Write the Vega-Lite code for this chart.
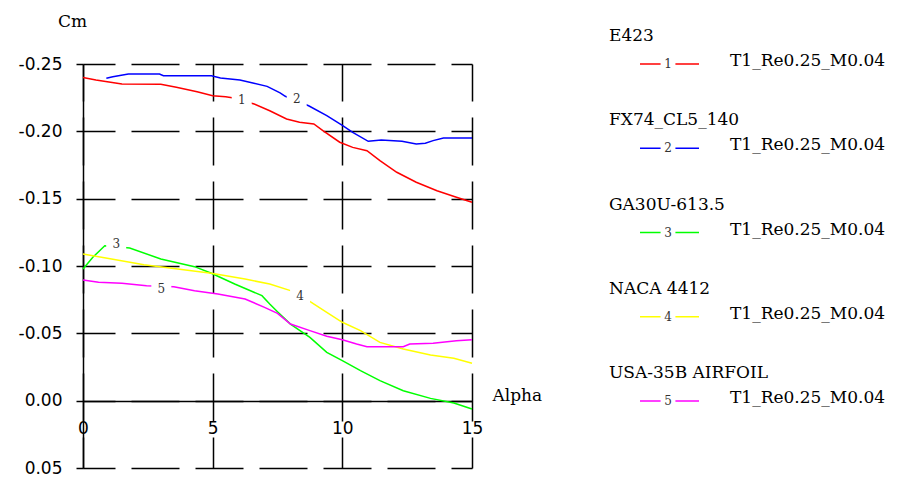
{
  "$schema": "https://vega.github.io/schema/vega-lite/v6.json",
  "background": "white",
  "padding": {"left": 18, "top": 12, "right": 5, "bottom": 0},
  "bounds": "flush",
  "spacing": 128,
  "config": {"view": {"stroke": null}, "font": "DejaVu Sans"},
  "datasets": {
    "curves": [
      {"series": "E423", "a": 0, "cm": -0.240},
      {"series": "E423", "a": 0.5, "cm": -0.2382},
      {"series": "E423", "a": 1, "cm": -0.2367},
      {"series": "E423", "a": 1.5, "cm": -0.2351},
      {"series": "E423", "a": 3.0, "cm": -0.2350},
      {"series": "E423", "a": 3.6, "cm": -0.2327},
      {"series": "E423", "a": 4.4, "cm": -0.2294},
      {"series": "E423", "a": 5.0, "cm": -0.2265},
      {"series": "E423", "a": 5.5, "cm": -0.2257},
      {"series": "E423", "a": 5.75, "cm": -0.2250},
      {"series": "E423", "a": 6.6, "cm": -0.2203},
      {"series": "E423", "a": 7.2, "cm": -0.2153},
      {"series": "E423", "a": 7.85, "cm": -0.2092},
      {"series": "E423", "a": 8.35, "cm": -0.2067},
      {"series": "E423", "a": 8.9, "cm": -0.2055},
      {"series": "E423", "a": 9.25, "cm": -0.2005},
      {"series": "E423", "a": 9.9, "cm": -0.1919},
      {"series": "E423", "a": 10.4, "cm": -0.1881},
      {"series": "E423", "a": 10.95, "cm": -0.1856},
      {"series": "E423", "a": 11.45, "cm": -0.1782},
      {"series": "E423", "a": 12.1, "cm": -0.1696},
      {"series": "E423", "a": 12.85, "cm": -0.1622},
      {"series": "E423", "a": 13.65, "cm": -0.1559},
      {"series": "E423", "a": 14.4, "cm": -0.1510},
      {"series": "E423", "a": 15, "cm": -0.1473},
      {"series": "FX74_CL5_140", "a": 0.9, "cm": -0.2394},
      {"series": "FX74_CL5_140", "a": 1.15, "cm": -0.2406},
      {"series": "FX74_CL5_140", "a": 1.75, "cm": -0.2426},
      {"series": "FX74_CL5_140", "a": 2.95, "cm": -0.2426},
      {"series": "FX74_CL5_140", "a": 3.1, "cm": -0.2413},
      {"series": "FX74_CL5_140", "a": 4.95, "cm": -0.2413},
      {"series": "FX74_CL5_140", "a": 5.3, "cm": -0.2396},
      {"series": "FX74_CL5_140", "a": 6.05, "cm": -0.2381},
      {"series": "FX74_CL5_140", "a": 6.55, "cm": -0.2359},
      {"series": "FX74_CL5_140", "a": 7.1, "cm": -0.2334},
      {"series": "FX74_CL5_140", "a": 7.6, "cm": -0.2285},
      {"series": "FX74_CL5_140", "a": 7.8, "cm": -0.2260},
      {"series": "FX74_CL5_140", "a": 8.7, "cm": -0.2190},
      {"series": "FX74_CL5_140", "a": 9.4, "cm": -0.2116},
      {"series": "FX74_CL5_140", "a": 10.0, "cm": -0.2045},
      {"series": "FX74_CL5_140", "a": 10.4, "cm": -0.1993},
      {"series": "FX74_CL5_140", "a": 11.0, "cm": -0.1926},
      {"series": "FX74_CL5_140", "a": 11.5, "cm": -0.1936},
      {"series": "FX74_CL5_140", "a": 12.3, "cm": -0.1926},
      {"series": "FX74_CL5_140", "a": 12.85, "cm": -0.1906},
      {"series": "FX74_CL5_140", "a": 13.2, "cm": -0.1911},
      {"series": "FX74_CL5_140", "a": 13.5, "cm": -0.1931},
      {"series": "FX74_CL5_140", "a": 13.9, "cm": -0.1950},
      {"series": "FX74_CL5_140", "a": 15, "cm": -0.1950},
      {"series": "GA30U-613.5", "a": 0, "cm": -0.0978},
      {"series": "GA30U-613.5", "a": 0.38, "cm": -0.1065},
      {"series": "GA30U-613.5", "a": 0.84, "cm": -0.1151},
      {"series": "GA30U-613.5", "a": 1.8, "cm": -0.1134},
      {"series": "GA30U-613.5", "a": 3.0, "cm": -0.1052},
      {"series": "GA30U-613.5", "a": 4.3, "cm": -0.0995},
      {"series": "GA30U-613.5", "a": 4.95, "cm": -0.0946},
      {"series": "GA30U-613.5", "a": 5.85, "cm": -0.0866},
      {"series": "GA30U-613.5", "a": 6.9, "cm": -0.0780},
      {"series": "GA30U-613.5", "a": 7.2, "cm": -0.0718},
      {"series": "GA30U-613.5", "a": 7.5, "cm": -0.0660},
      {"series": "GA30U-613.5", "a": 8.0, "cm": -0.0569},
      {"series": "GA30U-613.5", "a": 8.75, "cm": -0.0470},
      {"series": "GA30U-613.5", "a": 9.4, "cm": -0.0359},
      {"series": "GA30U-613.5", "a": 10.0, "cm": -0.0297},
      {"series": "GA30U-613.5", "a": 10.7, "cm": -0.0223},
      {"series": "GA30U-613.5", "a": 11.45, "cm": -0.0149},
      {"series": "GA30U-613.5", "a": 12.35, "cm": -0.0074},
      {"series": "GA30U-613.5", "a": 13.4, "cm": -0.0017},
      {"series": "GA30U-613.5", "a": 14.3, "cm": 0.0017},
      {"series": "GA30U-613.5", "a": 15, "cm": 0.0062},
      {"series": "NACA 4412", "a": 0, "cm": -0.1089},
      {"series": "NACA 4412", "a": 1.1, "cm": -0.1052},
      {"series": "NACA 4412", "a": 2.35, "cm": -0.1010},
      {"series": "NACA 4412", "a": 3.65, "cm": -0.0978},
      {"series": "NACA 4412", "a": 4.95, "cm": -0.0946},
      {"series": "NACA 4412", "a": 6.25, "cm": -0.0903},
      {"series": "NACA 4412", "a": 7.2, "cm": -0.0866},
      {"series": "NACA 4412", "a": 8.0, "cm": -0.0817},
      {"series": "NACA 4412", "a": 8.7, "cm": -0.0743},
      {"series": "NACA 4412", "a": 9.4, "cm": -0.0656},
      {"series": "NACA 4412", "a": 10.0, "cm": -0.0582},
      {"series": "NACA 4412", "a": 10.7, "cm": -0.0520},
      {"series": "NACA 4412", "a": 11.45, "cm": -0.0433},
      {"series": "NACA 4412", "a": 12.35, "cm": -0.0384},
      {"series": "NACA 4412", "a": 13.4, "cm": -0.0339},
      {"series": "NACA 4412", "a": 14.3, "cm": -0.0315},
      {"series": "NACA 4412", "a": 15, "cm": -0.0278},
      {"series": "USA-35B AIRFOIL", "a": 0, "cm": -0.0896},
      {"series": "USA-35B AIRFOIL", "a": 0.6, "cm": -0.0879},
      {"series": "USA-35B AIRFOIL", "a": 1.5, "cm": -0.0871},
      {"series": "USA-35B AIRFOIL", "a": 2.45, "cm": -0.0854},
      {"series": "USA-35B AIRFOIL", "a": 3.5, "cm": -0.0846},
      {"series": "USA-35B AIRFOIL", "a": 4.3, "cm": -0.0817},
      {"series": "USA-35B AIRFOIL", "a": 5.2, "cm": -0.0792},
      {"series": "USA-35B AIRFOIL", "a": 6.25, "cm": -0.0755},
      {"series": "USA-35B AIRFOIL", "a": 7.0, "cm": -0.0693},
      {"series": "USA-35B AIRFOIL", "a": 7.5, "cm": -0.0648},
      {"series": "USA-35B AIRFOIL", "a": 8.0, "cm": -0.0569},
      {"series": "USA-35B AIRFOIL", "a": 8.75, "cm": -0.0520},
      {"series": "USA-35B AIRFOIL", "a": 9.4, "cm": -0.0478},
      {"series": "USA-35B AIRFOIL", "a": 10.0, "cm": -0.0453},
      {"series": "USA-35B AIRFOIL", "a": 10.55, "cm": -0.0421},
      {"series": "USA-35B AIRFOIL", "a": 10.95, "cm": -0.0401},
      {"series": "USA-35B AIRFOIL", "a": 12.35, "cm": -0.0401},
      {"series": "USA-35B AIRFOIL", "a": 12.6, "cm": -0.0421},
      {"series": "USA-35B AIRFOIL", "a": 13.5, "cm": -0.0426},
      {"series": "USA-35B AIRFOIL", "a": 14.4, "cm": -0.0445},
      {"series": "USA-35B AIRFOIL", "a": 15, "cm": -0.0453}
    ],
    "labels": [
      {"series": "E423", "n": "1", "a": 6.12, "cm": -0.2235},
      {"series": "FX74_CL5_140", "n": "2", "a": 8.24, "cm": -0.224},
      {"series": "GA30U-613.5", "n": "3", "a": 1.28, "cm": -0.1163},
      {"series": "NACA 4412", "n": "4", "a": 8.37, "cm": -0.0775},
      {"series": "USA-35B AIRFOIL", "n": "5", "a": 3.02, "cm": -0.0829}
    ],
    "legend": [
      {"series": "E423", "n": "1", "idx": 1, "run": "T1_Re0.25_M0.04"},
      {"series": "FX74_CL5_140", "n": "2", "idx": 2, "run": "T1_Re0.25_M0.04"},
      {"series": "GA30U-613.5", "n": "3", "idx": 3, "run": "T1_Re0.25_M0.04"},
      {"series": "NACA 4412", "n": "4", "idx": 4, "run": "T1_Re0.25_M0.04"},
      {"series": "USA-35B AIRFOIL", "n": "5", "idx": 5, "run": "T1_Re0.25_M0.04"}
    ]
  },
  "hconcat": [
    {
      "width": 389,
      "height": 404,
      "layer": [
        {
          "data": {"name": "curves"},
          "mark": {"type": "line", "strokeWidth": 1.5, "clip": false},
          "encoding": {
            "x": {
              "field": "a", "type": "quantitative",
              "scale": {"domain": [0, 15], "nice": false, "zero": false},
              "axis": {
                "values": [0, 5, 10, 15],
                "offset": -67,
                "grid": true, "gridColor": "#000", "gridDash": [48, 16], "gridDashOffset": 17, "gridWidth": 1.5, "gridOpacity": 1,
                "domainColor": "#000", "domainWidth": 1.5,
                "ticks": false,
                "labelPadding": 19, "labelFont": "DejaVu Sans", "labelFontSize": 17, "labelColor": "#000",
                "labelFlush": false, "labelOverlap": false,
                "title": "Alpha", "titleFont": "DejaVu Serif", "titleFontSize": 17, "titleFontWeight": "normal", "titleColor": "#000",
                "titleX": 409, "titleY": -6, "titleAlign": "left", "titleBaseline": "middle", "titleAngle": 0
              }
            },
            "y": {
              "field": "cm", "type": "quantitative",
              "scale": {"domain": [-0.25, 0.05], "nice": false, "zero": false, "reverse": true},
              "axis": {
                "values": [-0.25, -0.2, -0.15, -0.1, -0.05, 0, 0.05],
                "format": ".2f",
                "labelExpr": "replace(datum.label, '\u2212', '-')",
                "grid": true, "gridColor": "#000", "gridDash": [48, 16], "gridDashOffset": 16, "gridWidth": 1.5, "gridOpacity": 1,
                "domainColor": "#000", "domainWidth": 1.5,
                "tickSize": 7, "tickColor": "#000", "tickWidth": 1.5,
                "labelPadding": 14, "labelFont": "DejaVu Sans", "labelFontSize": 17, "labelColor": "#000",
                "labelFlush": false, "labelOverlap": false,
                "title": "Cm", "titleFont": "DejaVu Serif", "titleFontSize": 17, "titleFontWeight": "normal", "titleColor": "#000",
                "titleAngle": 0, "titleX": -11, "titleY": -43, "titleAlign": "center", "titleBaseline": "middle"
              }
            },
            "color": {
              "field": "series", "type": "nominal",
              "scale": {"domain": ["E423", "FX74_CL5_140", "GA30U-613.5", "NACA 4412", "USA-35B AIRFOIL"], "range": ["#ff0000", "#0000ff", "#00ff00", "#ffff00", "#ff00ff"]},
              "legend": null
            }
          }
        },
        {
          "data": {"name": "labels"},
          "mark": {"type": "point", "shape": "square", "filled": true, "color": "white", "size": 400, "opacity": 1, "strokeWidth": 0},
          "encoding": {
            "x": {"field": "a", "type": "quantitative"},
            "y": {"field": "cm", "type": "quantitative"}
          }
        },
        {
          "data": {"name": "labels"},
          "mark": {"type": "text", "font": "DejaVu Serif", "fontSize": 12, "color": "#333"},
          "encoding": {
            "x": {"field": "a", "type": "quantitative"},
            "y": {"field": "cm", "type": "quantitative"},
            "text": {"field": "n"}
          }
        }
      ]
    },
    {
      "width": 300,
      "height": 337,
      "data": {"name": "legend"},
      "encoding": {
        "y": {"field": "idx", "type": "quantitative", "scale": {"domain": [1, 5], "reverse": true, "nice": false, "zero": false}, "axis": null}
      },
      "layer": [
        {
          "mark": {"type": "rule", "strokeWidth": 1.5},
          "encoding": {
            "x": {"datum": 40, "type": "quantitative", "scale": {"domain": [0, 300], "nice": false, "zero": false}, "axis": null},
            "x2": {"datum": 99},
            "color": {
              "field": "series", "type": "nominal",
              "scale": {"domain": ["E423", "FX74_CL5_140", "GA30U-613.5", "NACA 4412", "USA-35B AIRFOIL"], "range": ["#ff0000", "#0000ff", "#00ff00", "#ffff00", "#ff00ff"]},
              "legend": null
            }
          }
        },
        {
          "mark": {"type": "point", "shape": "square", "filled": true, "color": "white", "size": 220, "opacity": 1, "strokeWidth": 0},
          "encoding": {"x": {"datum": 68, "type": "quantitative"}}
        },
        {
          "mark": {"type": "text", "font": "DejaVu Serif", "fontSize": 12, "color": "#333"},
          "encoding": {"x": {"datum": 68, "type": "quantitative"}, "text": {"field": "n"}}
        },
        {
          "mark": {"type": "text", "font": "DejaVu Serif", "fontSize": 17, "align": "left", "dy": -28, "color": "#000"},
          "encoding": {"x": {"datum": 9, "type": "quantitative"}, "text": {"field": "series"}}
        },
        {
          "mark": {"type": "text", "font": "DejaVu Serif", "fontSize": 17, "align": "left", "dy": -3, "color": "#000"},
          "encoding": {"x": {"datum": 130, "type": "quantitative"}, "text": {"field": "run"}}
        }
      ]
    }
  ]
}
